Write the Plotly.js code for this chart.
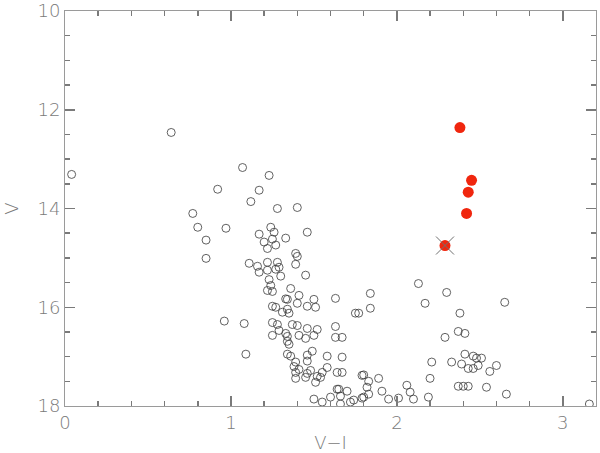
<!DOCTYPE html>
<html>
<head>
<meta charset="utf-8">
<script src="https://cdn.plot.ly/plotly-3.0.1.min.js"></script>
<style>html,body{margin:0;padding:0;background:#fff;}#chart{width:600px;height:453px;}</style>
</head>
<body>
<div id="chart"></div>
<script>
// Field stars (open circles): V-I colour and V magnitude
const fieldVI = [
  0.04,0.64,1.07,1.23,0.92,1.17,1.12,1.28,1.40,0.77,0.80,0.97,1.24,1.26,1.17,1.33,1.25,1.20,1.27,1.22,0.85,1.46,
  0.85,1.39,1.40,1.39,1.11,1.16,1.22,1.28,1.17,1.22,1.27,1.29,1.45,1.30,1.23,1.24,1.22,1.25,1.36,1.34,1.33,1.41,1.40,1.46,1.50,1.51,1.63,1.25,1.27,1.31,1.34,1.35,1.75,1.77,1.84,1.84,
  0.96,1.08,1.25,1.28,1.25,1.29,1.33,1.37,1.40,1.34,1.34,1.35,1.41,1.45,1.46,1.52,1.50,1.63,1.63,1.67,
  1.09,1.34,1.36,1.39,1.38,1.41,1.39,1.39,1.46,1.46,1.49,1.46,1.45,1.48,1.52,1.51,1.54,1.55,1.58,1.58,1.67,1.64,1.67,1.64,1.65,1.70,1.50,1.55,1.60,1.66,1.72,1.74,1.66,
  1.79,1.80,1.89,1.82,1.83,1.91,1.83,1.80,1.79,1.95,2.01,2.06,2.08,2.10,2.19,2.20,2.21,2.13,2.17,2.30,2.65,2.38,2.37,2.41,2.29,2.33,2.39,2.41,2.46,2.48,2.51,2.49,2.43,2.46,2.56,2.60,2.37,2.40,2.43,2.54,2.66,3.16
];
const fieldV = [
  13.31,12.46,13.17,13.33,13.61,13.63,13.86,14.00,13.98,14.10,14.38,14.40,14.38,14.48,14.52,14.60,14.62,14.68,14.74,14.81,14.64,14.48,
  15.01,14.91,14.97,15.13,15.11,15.17,15.09,15.09,15.29,15.25,15.23,15.19,15.35,15.37,15.44,15.56,15.66,15.68,15.62,15.84,15.83,15.76,15.92,15.98,15.84,16.00,15.82,15.98,16.00,16.10,16.04,16.12,16.12,16.12,15.72,16.02,
  16.28,16.33,16.31,16.35,16.57,16.47,16.53,16.35,16.37,16.59,16.69,16.75,16.57,16.63,16.43,16.45,16.57,16.39,16.61,16.61,
  16.95,16.95,16.99,17.11,17.20,17.26,17.32,17.44,17.09,16.97,16.89,17.34,17.42,17.28,17.40,17.52,17.42,17.32,16.99,17.22,17.01,17.32,17.32,17.66,17.66,17.70,17.86,17.92,17.82,17.96,17.92,17.88,17.80,
  17.38,17.37,17.44,17.62,17.50,17.70,17.76,17.82,17.84,17.86,17.84,17.58,17.72,17.86,17.82,17.44,17.11,15.52,15.92,15.70,15.90,16.12,16.49,16.53,16.61,17.11,17.15,16.95,16.99,17.03,17.03,17.18,17.24,17.24,17.30,17.18,17.60,17.60,17.60,17.62,17.76,17.96
];
// Highlighted stars (red filled)
const redVI = [2.38, 2.45, 2.43, 2.42, 2.29];
const redV  = [12.36, 13.43, 13.67, 14.10, 14.75];
// Star marked with a cross
const crossVI = [2.29];
const crossV  = [14.75];
// Axis ranges and tick steps
const xRange = [0, 3.2];
const yRange = [18, 10];
const xMajor = 1, xMinor = 0.2;
const yMajor = 2, yMinor = 0.5;

const axisColor = '#7a7a7a';
const textColor = '#7a7a7a';
const tickFont = {family: 'DejaVu Sans', size: 18, color: textColor, weight: 200};

const traces = [
  {x: fieldVI, y: fieldV, type: 'scatter', mode: 'markers',
   marker: {symbol: 'circle-open', size: 8, color: '#3a3a3a', line: {width: 0.8, color: '#3a3a3a'}},
   hoverinfo: 'skip', showlegend: false},
  {x: redVI, y: redV, type: 'scatter', mode: 'markers',
   marker: {symbol: 'circle', size: 11, color: '#f0260e', line: {width: 0}},
   showlegend: false},
  {x: crossVI, y: crossV, type: 'scatter', mode: 'markers',
   marker: {symbol: 'x-thin-open', size: 18, color: '#707070', line: {width: 1, color: '#707070'}},
   showlegend: false}
];

const layout = {
  width: 600, height: 453,
  margin: {l: 65, r: 4, t: 11, b: 47},
  showlegend: false,
  xaxis: {
    range: xRange, dtick: xMajor,
    ticks: 'inside', ticklen: 10, tickwidth: 1.5, tickcolor: axisColor,
    minor: {dtick: xMinor, ticks: 'inside', ticklen: 5, tickwidth: 1.5, tickcolor: axisColor, showgrid: false},
    showline: true, linecolor: '#9a9a9a', mirror: 'allticks',
    showgrid: false, zeroline: false, tickfont: tickFont,
    title: {text: 'V\u2212I', font: {family: 'DejaVu Sans', size: 18, color: textColor, weight: 200}, standoff: 4}
  },
  yaxis: {
    range: yRange, dtick: yMajor,
    ticks: 'inside', ticklen: 10, tickwidth: 1.5, tickcolor: axisColor,
    minor: {dtick: yMinor, ticks: 'inside', ticklen: 5, tickwidth: 1.5, tickcolor: axisColor, showgrid: false},
    showline: true, linecolor: '#9a9a9a', mirror: 'allticks',
    showgrid: false, zeroline: false, tickfont: tickFont,
    title: {text: 'V', font: {family: 'DejaVu Sans', size: 18, color: textColor, weight: 200}, standoff: 14}
  }
};

Plotly.newPlot('chart', traces, layout, {staticPlot: true});
</script>
</body>
</html>
